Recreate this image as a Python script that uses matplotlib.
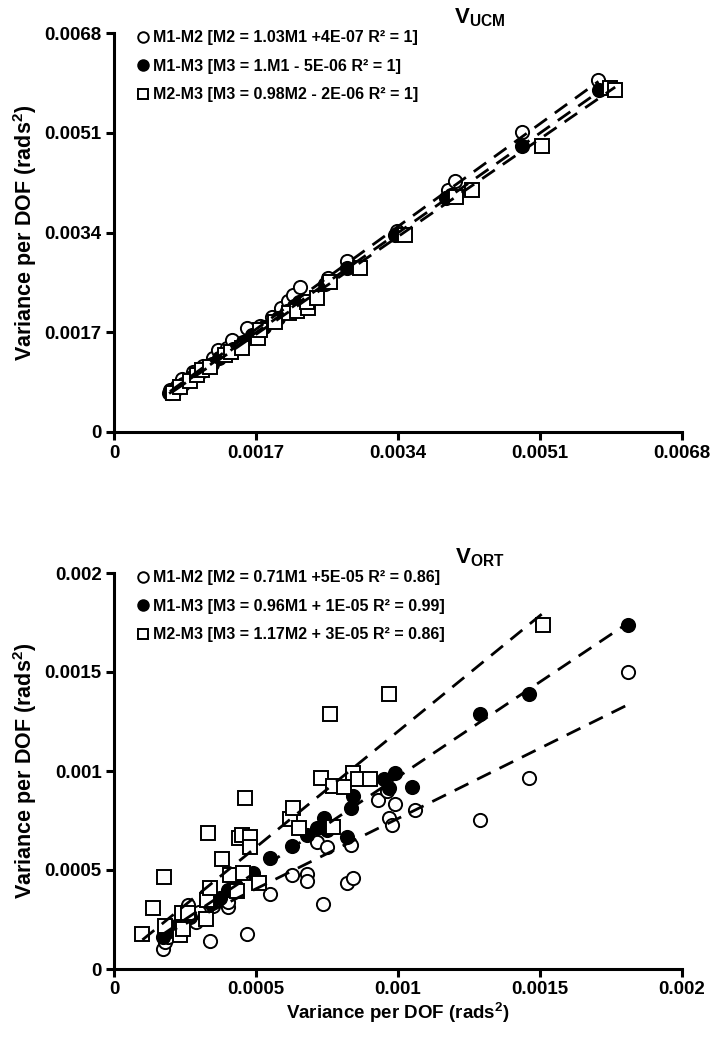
import matplotlib
matplotlib.use("Agg")
import matplotlib.pyplot as plt
import numpy as np

plt.rcParams['font.family'] = ['Liberation Sans', 'DejaVu Sans']
plt.rcParams['font.weight'] = 'bold'
plt.rcParams['mathtext.fontset'] = 'custom'
plt.rcParams['mathtext.bf'] = 'Liberation Sans:bold'
plt.rcParams['mathtext.rm'] = 'Liberation Sans:bold'

# ---------------- V_UCM data ----------------
ucm_m1m2_x = [0.00067, 0.00075, 0.00082, 0.00095, 0.00106, 0.00118, 0.00125, 0.00135, 0.00141, 0.00159,
              0.00175, 0.00189, 0.00200, 0.00208, 0.00214, 0.00223, 0.00256, 0.00279, 0.00339, 0.00400,
              0.00408, 0.00488, 0.00580]
ucm_m1m2_y = [0.00071, 0.00078, 0.00090, 0.00102, 0.00112, 0.00126, 0.00139, 0.00143, 0.00156, 0.00177,
              0.00180, 0.00196, 0.00212, 0.00224, 0.00233, 0.00247, 0.00262, 0.00292, 0.00343, 0.00412,
              0.00428, 0.00512, 0.00600]
ucm_m1m3_x = [0.00066, 0.00074, 0.00083, 0.00093, 0.00105, 0.00117, 0.00126, 0.00136, 0.00143, 0.00155,
              0.00165, 0.00180, 0.00196, 0.00207, 0.00215, 0.00222, 0.00253, 0.00279, 0.00337, 0.00398,
              0.00404, 0.00489, 0.00581]
ucm_m1m3_y = [0.00067, 0.00074, 0.00082, 0.00093, 0.00104, 0.00116, 0.00126, 0.00135, 0.00142, 0.00154,
              0.00165, 0.00179, 0.00195, 0.00206, 0.00214, 0.00221, 0.00252, 0.00279, 0.00336, 0.00398,
              0.00404, 0.00488, 0.00583]
ucm_m2m3_x = [0.00071, 0.00079, 0.00091, 0.00099, 0.00105, 0.00115, 0.00133, 0.00140, 0.00153, 0.00172,
              0.00175, 0.00193, 0.00210, 0.00219, 0.00232, 0.00231, 0.00243, 0.00259, 0.00295, 0.00348,
              0.00410, 0.00428, 0.00512, 0.00594, 0.00600]
ucm_m2m3_y = [0.00066, 0.00076, 0.00087, 0.00097, 0.00105, 0.00110, 0.00131, 0.00136, 0.00143, 0.00160,
              0.00173, 0.00187, 0.00203, 0.00207, 0.00211, 0.00221, 0.00228, 0.00255, 0.00280, 0.00335,
              0.00400, 0.00412, 0.00488, 0.00587, 0.00583]
ucm_slopes = [1.03, 1.0, 0.98]
ucm_intercepts = [4e-07, -5e-06, -2e-06]
ucm_labels = ["M1-M2 [M2 = 1.03M1 +4E-07 R² = 1]",
              "M1-M3 [M3 = 1.M1 - 5E-06 R² = 1]",
              "M2-M3 [M3 = 0.98M2 - 2E-06 R² = 1]"]
ucm_ticks = [0, 0.0017, 0.0034, 0.0051, 0.0068]
ucm_ticklabels = ["0", "0.0017", "0.0034", "0.0051", "0.0068"]

# ---------------- V_ORT data ----------------
ort_m1m2_x = [0.000174, 0.00018, 0.00019, 0.00021, 0.00024, 0.00026, 0.00029, 0.00030, 0.000338, 0.00035,
              0.0004, 0.0004, 0.00047, 0.00055, 0.000627, 0.00068, 0.00068, 0.000715, 0.000736, 0.00075,
              0.00082, 0.00084, 0.000835, 0.00093, 0.00096, 0.00097, 0.00098, 0.00099, 0.00106, 0.00129,
              0.00146, 0.00181]
ort_m1m2_y = [0.0001, 0.000135, 0.00016, 0.0002, 0.00022, 0.000325, 0.000235, 0.00029, 0.00014, 0.00032,
              0.000315, 0.00034, 0.000175, 0.00038, 0.000475, 0.00048, 0.000445, 0.00064, 0.00033, 0.000615,
              0.000435, 0.00046, 0.000625, 0.000855, 0.0009, 0.000765, 0.000725, 0.000835, 0.000805, 0.000755,
              0.000965, 0.0015]
ort_m1m3_x = [0.000173, 0.000187, 0.00022, 0.000268, 0.00034, 0.000373, 0.0004, 0.00043, 0.00049, 0.00055,
              0.000627, 0.00068, 0.000715, 0.00075, 0.00074, 0.00082, 0.000835, 0.00084, 0.00095, 0.00097,
              0.00099, 0.00105, 0.00129, 0.00146, 0.00181]
ort_m1m3_y = [0.00016, 0.000185, 0.000215, 0.000265, 0.000335, 0.00036, 0.0004, 0.00042, 0.000485, 0.00056,
              0.00062, 0.000675, 0.00071, 0.0007, 0.000765, 0.000665, 0.000815, 0.000875, 0.00096, 0.000915,
              0.00099, 0.00092, 0.00129, 0.00139, 0.001735]
ort_m2m3_x = [0.0001, 0.000137, 0.000176, 0.00018, 0.000232, 0.000243, 0.00024, 0.00026, 0.000324, 0.000327,
              0.00033, 0.000338, 0.00038, 0.00041, 0.000433, 0.00044, 0.00045, 0.000455, 0.00046, 0.00048,
              0.00048, 0.00051, 0.00062, 0.00063, 0.00065, 0.00073, 0.00076, 0.00077, 0.00077, 0.00081,
              0.00084, 0.00086, 0.0009, 0.00097, 0.00151]
ort_m2m3_y = [0.000175, 0.00031, 0.000465, 0.000215, 0.00017, 0.0002, 0.000285, 0.000285, 0.000255, 0.00035,
              0.000685, 0.00041, 0.000555, 0.000475, 0.000395, 0.00066, 0.000675, 0.000485, 0.000865, 0.000665,
              0.000615, 0.000435, 0.00076, 0.000815, 0.00071, 0.000965, 0.00129, 0.000925, 0.000715, 0.00092,
              0.00099, 0.00096, 0.00096, 0.00139, 0.001735]
ort_slopes = [0.71, 0.96, 1.17]
ort_intercepts = [5e-05, 1e-05, 3e-05]
ort_labels = ["M1-M2 [M2 = 0.71M1 +5E-05 R² = 0.86]",
              "M1-M3 [M3 = 0.96M1 + 1E-05 R² = 0.99]",
              "M2-M3 [M3 = 1.17M2 + 3E-05 R² = 0.86]"]
ort_ticks = [0, 0.0005, 0.001, 0.0015, 0.002]
ort_ticklabels = ["0", "0.0005", "0.001", "0.0015", "0.002"]

W, H = 722, 1050
fig = plt.figure(figsize=(W / 100, H / 100), dpi=100)

def px_axes(l, r, t, b):
    return fig.add_axes([l / W, 1 - b / H, (r - l) / W, (b - t) / H])

ax1 = px_axes(114, 682, 33, 432)
ax2 = px_axes(114, 682, 573, 969)

styles = [dict(marker='o', mfc='white', mec='black'),
          dict(marker='o', mfc='black', mec='black'),
          dict(marker='s', mfc='white', mec='black')]


def draw(ax, series, slopes, intercepts, labels, ticks, ticklabels, title, show_xlabel):
    handles = []
    for (x, y), st, s, b, lab in zip(series, styles, slopes, intercepts, labels):
        x = np.asarray(x)
        y = np.asarray(y)
        h, = ax.plot(x, y, ls='none', ms=9.5, mew=1.4, zorder=3, label=lab, **st)
        handles.append(h)
        xl = np.array([x.min(), x.max()])
        ax.plot(xl, s * xl + b, color='black', lw=2.0, ls=(0, (5.5, 3.5)), zorder=4)
    ax.set_xlim(ticks[0], ticks[-1])
    ax.set_ylim(ticks[0], ticks[-1])
    ax.set_xticks(ticks)
    ax.set_yticks(ticks)
    ax.set_xticklabels(ticklabels, fontsize=13.5, fontweight='bold')
    ax.set_yticklabels(ticklabels, fontsize=13.5, fontweight='bold')
    for sp in ['top', 'right']:
        ax.spines[sp].set_visible(False)
    for sp in ['left', 'bottom']:
        ax.spines[sp].set_linewidth(2.2)
    ax.tick_params(direction='out', length=6, width=2.2, pad=3)
    ax.set_ylabel("Variance per DOF (rads$^{2}$)", fontsize=15.5, fontweight='bold', labelpad=4)
    if show_xlabel:
        ax.set_xlabel("Variance per DOF (rads$^{2}$)", fontsize=13.5, fontweight='bold', labelpad=1)
    ax.text(0.644, 1.01, title, transform=ax.transAxes, ha='center', va='bottom', fontsize=16)
    leg = ax.legend(handles=handles, loc='upper left', bbox_to_anchor=(0.043, 1.007), frameon=False,
                    handlelength=0.6, handletextpad=0.3, labelspacing=0.85, borderaxespad=0,
                    borderpad=0, markerscale=0.8, prop=dict(size=11.5, weight='bold'))
    for t in leg.get_texts():
        t.set_fontweight('bold')


draw(ax1, [(ucm_m1m2_x, ucm_m1m2_y), (ucm_m1m3_x, ucm_m1m3_y), (ucm_m2m3_x, ucm_m2m3_y)],
     ucm_slopes, ucm_intercepts, ucm_labels, ucm_ticks, ucm_ticklabels,
     r"$\mathbf{V_{UCM}}$", False)
draw(ax2, [(ort_m1m2_x, ort_m1m2_y), (ort_m1m3_x, ort_m1m3_y), (ort_m2m3_x, ort_m2m3_y)],
     ort_slopes, ort_intercepts, ort_labels, ort_ticks, ort_ticklabels,
     r"$\mathbf{V_{ORT}}$", True)

fig.savefig("out.png", dpi=100)
